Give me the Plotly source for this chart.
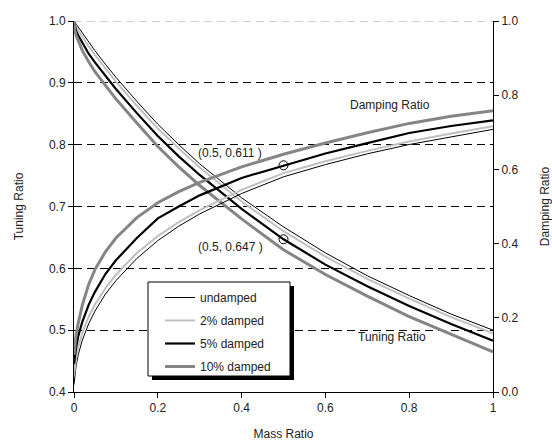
import plotly.graph_objects as go

# ---------------- data ----------------
mass_ratio = [0, 0.002, 0.005, 0.01, 0.02, 0.035, 0.05, 0.075, 0.1, 0.15, 0.2, 0.25,
              0.3, 0.4, 0.5, 0.6, 0.7, 0.8, 0.9, 1.0]

tuning_undamped = [1.0, 0.998, 0.995, 0.990, 0.980, 0.966, 0.952, 0.930, 0.909, 0.870,
                   0.833, 0.800, 0.769, 0.714, 0.667, 0.625, 0.588, 0.556, 0.526, 0.500]
tuning_2pct = [1.0, 0.995, 0.990, 0.985, 0.974, 0.959, 0.945, 0.923, 0.902, 0.863,
               0.826, 0.794, 0.763, 0.708, 0.660, 0.619, 0.583, 0.551, 0.521, 0.495]
tuning_5pct = [1.0, 0.990, 0.984, 0.977, 0.964, 0.947, 0.933, 0.911, 0.890, 0.851,
               0.814, 0.781, 0.751, 0.696, 0.647, 0.606, 0.571, 0.539, 0.510, 0.483]
tuning_10pct = [1.0, 0.985, 0.977, 0.968, 0.952, 0.934, 0.918, 0.896, 0.874, 0.835,
                0.797, 0.764, 0.734, 0.680, 0.630, 0.590, 0.555, 0.522, 0.493, 0.465]

damping_undamped = [0.02, 0.045, 0.07, 0.10, 0.14, 0.184, 0.218, 0.264, 0.300, 0.360,
                    0.408, 0.447, 0.480, 0.535, 0.580, 0.613, 0.642, 0.667, 0.688, 0.708]
damping_2pct = [0.045, 0.065, 0.09, 0.12, 0.16, 0.203, 0.236, 0.280, 0.316, 0.375,
                0.420, 0.458, 0.490, 0.545, 0.590, 0.622, 0.650, 0.675, 0.697, 0.716]
damping_5pct = [0.075, 0.10, 0.12, 0.15, 0.19, 0.235, 0.270, 0.318, 0.355, 0.415,
                0.468, 0.500, 0.530, 0.577, 0.611, 0.643, 0.671, 0.698, 0.717, 0.732]
damping_10pct = [0.10, 0.13, 0.155, 0.185, 0.235, 0.290, 0.330, 0.378, 0.415, 0.470,
                 0.510, 0.540, 0.565, 0.607, 0.641, 0.671, 0.699, 0.724, 0.743, 0.758]

series_names = ["undamped", "2% damped", "5% damped", "10% damped"]
tuning_series = [tuning_undamped, tuning_2pct, tuning_5pct, tuning_10pct]
damping_series = [damping_undamped, damping_2pct, damping_5pct, damping_10pct]

marked_point_x = [0.5]
marked_tuning = [0.647]
marked_damping = [0.611]

x_ticks = [0, 0.2, 0.4, 0.6, 0.8, 1.0]
x_tick_text = ["0", "0.2", "0.4", "0.6", "0.8", "1"]
y_ticks = [0.4, 0.5, 0.6, 0.7, 0.8, 0.9, 1.0]
y_tick_text = ["0.4", "0.5", "0.6", "0.7", "0.8", "0.9", "1.0"]
y2_ticks = [0.0, 0.2, 0.4, 0.6, 0.8, 1.0]
y2_tick_text = ["0.0", "0.2", "0.4", "0.6", "0.8", "1.0"]

# ---------------- styles ----------------
colors = ["#000000", "#c0c0c0", "#000000", "#858585"]
widths = [1, 2, 2.2, 3]
FONT = "Liberation Sans, Arial, sans-serif"

fig = go.Figure()
for i, name in enumerate(series_names):
    fig.add_trace(go.Scatter(
        x=mass_ratio, y=tuning_series[i], mode="lines", name=name,
        legendgroup=f"g{i}", line=dict(color=colors[i], width=widths[i]),
        yaxis="y"))
for i, name in enumerate(series_names):
    fig.add_trace(go.Scatter(
        x=mass_ratio, y=damping_series[i], mode="lines", name=name,
        legendgroup=f"g{i}", showlegend=False,
        line=dict(color=colors[i], width=widths[i]), yaxis="y2"))

fig.add_trace(go.Scatter(x=marked_point_x, y=marked_tuning, mode="markers",
                         showlegend=False, yaxis="y",
                         marker=dict(symbol="circle-open", size=9,
                                     color="black", line=dict(width=1))))
fig.add_trace(go.Scatter(x=marked_point_x, y=marked_damping, mode="markers",
                         showlegend=False, yaxis="y2",
                         marker=dict(symbol="circle-open", size=9,
                                     color="black", line=dict(width=1))))

L, R, T, B = 74, 59, 21, 49
W, H = 552, 441
pw, ph = W - L - R, H - T - B


def px_x(px):
    return (px - L) / pw


def px_y(py):
    return (H - B - py) / ph


annots = [
    dict(text="(0.5, 0.611 )", x=0.291, y=0.7865, xanchor="left"),
    dict(text="(0.5, 0.647 )", x=0.291, y=0.6345, xanchor="left"),
    dict(text="Damping Ratio", x=0.654, y=0.864, xanchor="left"),
    dict(text="Tuning Ratio", x=0.673, y=0.489, xanchor="left"),
]
for a in annots:
    fig.add_annotation(text=a["text"], x=a["x"], y=a["y"], xref="x", yref="y",
                       xanchor=a["xanchor"], yanchor="middle", showarrow=False,
                       font=dict(family=FONT, size=12, color="#222"))

# legend box with shadow
box_l, box_r, box_t, box_b = 148, 290, 282, 376
fig.add_shape(type="rect", xref="paper", yref="paper",
              x0=px_x(box_l + 4), x1=px_x(box_r + 4), y0=px_y(box_b + 4), y1=px_y(box_t + 4),
              fillcolor="black", line=dict(width=0), layer="above")
fig.add_shape(type="rect", xref="paper", yref="paper",
              x0=px_x(box_l), x1=px_x(box_r), y0=px_y(box_b), y1=px_y(box_t),
              fillcolor="white", line=dict(color="black", width=1), layer="above")

# gray top gridline
fig.add_shape(type="line", xref="paper", yref="y", x0=0, x1=1, y0=1.0, y1=1.0,
              line=dict(color="#a0a0a0", width=1, dash="8px,5px"), layer="above")

fig.update_layout(
    width=W, height=H,
    margin=dict(l=L, r=R, t=T, b=B, autoexpand=False),
    paper_bgcolor="white", plot_bgcolor="white",
    font=dict(family=FONT, size=12, color="#222"),
    showlegend=True,
    legend=dict(x=px_x(160), y=px_y(283), xanchor="left", yanchor="top",
                bgcolor="rgba(0,0,0,0)", borderwidth=0, tracegroupgap=4,
                font=dict(family=FONT, size=12, color="#222")),
    xaxis=dict(range=[0, 1], tickvals=x_ticks, ticktext=x_tick_text,
               ticks="outside", ticklen=5, tickcolor="black", automargin=False,
               showline=True, linecolor="black", linewidth=1,
               showgrid=False, zeroline=False,
               title=dict(text="Mass Ratio", standoff=15,
                          font=dict(family=FONT, size=12))),
    yaxis=dict(range=[0.4, 1.0], tickvals=y_ticks, ticktext=y_tick_text,
               ticks="outside", ticklen=5, tickcolor="black", automargin=False,
               showline=True, linecolor="black", linewidth=1,
               showgrid=True, gridcolor="black", gridwidth=1, griddash="8px,5px",
               zeroline=False,
               title=dict(text="Tuning Ratio", standoff=22,
                          font=dict(family=FONT, size=12))),
    yaxis2=dict(range=[0, 1.0], tickvals=y2_ticks, ticktext=y2_tick_text,
                overlaying="y", side="right", automargin=False,
                ticks="outside", ticklen=5, tickcolor="black",
                showline=True, linecolor="black", linewidth=1,
                showgrid=False, zeroline=False,
                title=dict(text="Damping Ratio", standoff=27,
                           font=dict(family=FONT, size=12))),
)

fig.write_html("out.html")
